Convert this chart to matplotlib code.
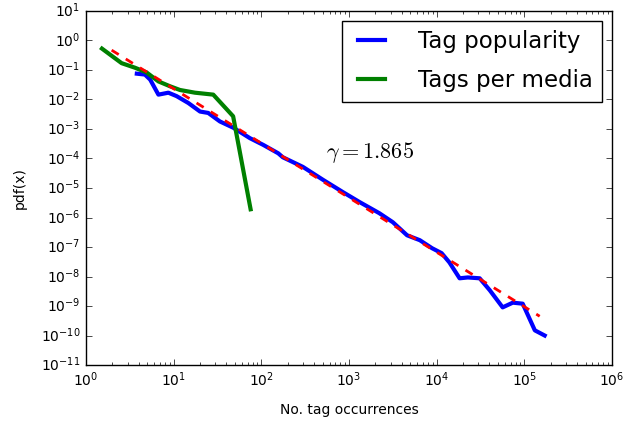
import matplotlib
matplotlib.use('Agg')
import matplotlib.pyplot as plt

plt.style.use('classic')

# Tag popularity (blue)
pop_x = [3.8, 4.7, 5.4, 6.7, 8.7, 10.8, 14.7, 20, 24.8, 33.7, 48, 74, 105, 156, 176,
         298, 505, 850, 1330, 2220, 3170, 4600, 6440, 8880, 11400, 14000, 18300,
         22700, 31000, 40500, 56700, 74000, 96000, 132000, 171000]
pop_y = [0.075, 0.07, 0.047, 0.0146, 0.017, 0.013, 0.0076, 0.0039, 0.0035, 0.0018,
         0.0011, 4.9e-4, 2.9e-4, 1.5e-4, 1.1e-4, 5.2e-5, 1.9e-5, 7.3e-6, 3.3e-6,
         1.4e-6, 6.9e-7, 2.5e-7, 1.7e-7, 9.1e-8, 6.2e-8, 3.0e-8, 8.7e-9, 9.3e-9,
         8.7e-9, 3.4e-9, 9e-10, 1.3e-9, 1.2e-9, 1.5e-10, 1.0e-10]

# Tags per media (green)
media_x = [1.52, 2.55, 3.6, 4.9, 6.7, 9.1, 11.8, 17.5, 28.3, 47.7, 75.5]
media_y = [0.53, 0.17, 0.12, 0.083, 0.041, 0.028, 0.021, 0.017, 0.0146, 0.0027, 1.9e-6]

# power-law fit (red dashed), endpoints
fit_x = [1.96, 150000]
fit_y = [0.47, 4.5e-10]
gamma = 1.865

fig = plt.figure(figsize=(6.39, 4.22), dpi=100, facecolor='white')
ax = fig.add_axes([0.1346, 0.135, 0.823, 0.839])

ax.plot(pop_x, pop_y, color='blue', lw=3, label='Tag popularity')
ax.plot(media_x, media_y, color='green', lw=3, label='Tags per media')
ax.plot(fit_x, fit_y, color='red', lw=2, ls='--')

ax.set_xscale('log')
ax.set_yscale('log')
ax.set_xlim(1, 1e6)
ax.set_ylim(1e-11, 10)
ax.yaxis.set_major_locator(matplotlib.ticker.LogLocator(base=10, numticks=20))
ax.yaxis.set_minor_locator(matplotlib.ticker.NullLocator())

ax.text(1750, 1.6e-4, r'$\gamma = %.3f$' % gamma, fontsize=16,
        ha='center', va='center')

ax.set_xlabel('No. tag occurrences', fontsize=10, labelpad=10)
ax.set_ylabel('pdf(x)', fontsize=10, labelpad=10)
ax.tick_params(labelsize=10)

leg = ax.legend(loc='upper right', fontsize=16.5, handlelength=1.8,
                handletextpad=1.1, labelspacing=0.7, borderpad=0.4,
                borderaxespad=0.45)
leg.get_frame().set_linewidth(1.0)

fig.savefig('out.png', dpi=100, facecolor='white')
